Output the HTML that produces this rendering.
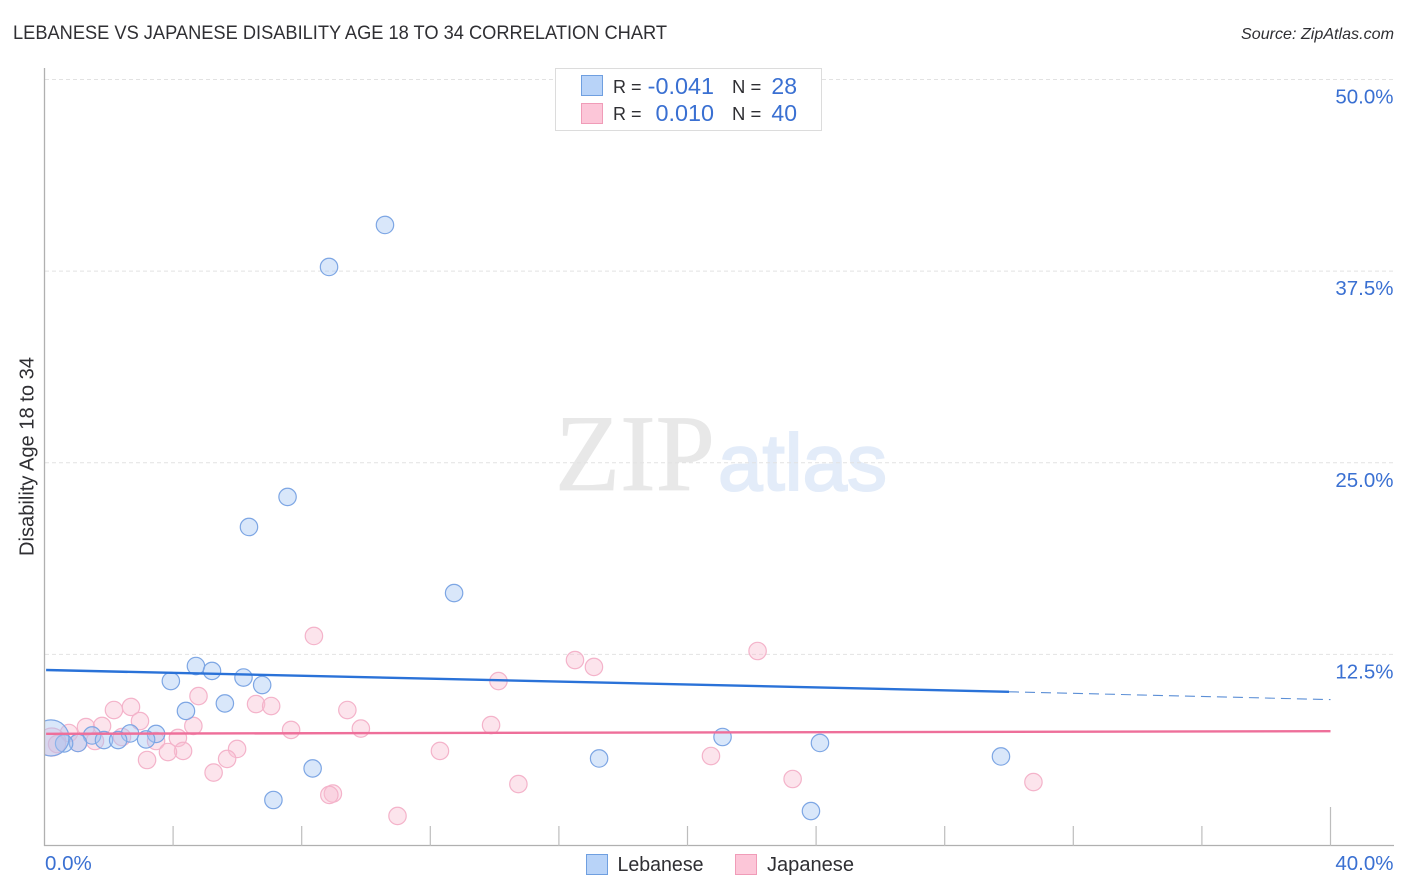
<!DOCTYPE html>
<html lang="en">
<head>
<meta charset="utf-8">
<title>Lebanese vs Japanese Disability Age 18 to 34 Correlation Chart</title>
<style>
html,body{margin:0;padding:0;background:#fff;width:1406px;height:892px;overflow:hidden}
svg{display:block;font-family:"Liberation Sans",sans-serif}
</style>
</head>
<body>
<svg id="chart" width="1406" height="892" viewBox="0 0 1406 892" xmlns="http://www.w3.org/2000/svg">
  <defs>
    <clipPath id="plot-clip"><rect x="45" y="60" width="1349" height="786"/></clipPath>
  </defs>
  <rect width="1406" height="892" fill="#fff"/>
  <text x="13" y="39" font-size="19" fill="#2f2f33" textLength="654" lengthAdjust="spacingAndGlyphs">LEBANESE VS JAPANESE DISABILITY AGE 18 TO 34 CORRELATION CHART</text>
  <text x="1394" y="39" font-size="16" font-style="italic" fill="#2f2f33" text-anchor="end" textLength="153" lengthAdjust="spacingAndGlyphs">Source: ZipAtlas.com</text>

  <g>
    <text x="555" y="490" font-family="'Liberation Serif',serif" font-size="109" fill="#e8e8e8" stroke="#e8e8e8" stroke-width="0.8" textLength="160" lengthAdjust="spacingAndGlyphs">ZIP</text>
    <text x="718" y="490" font-size="80" fill="#e3ecf9" stroke="#e3ecf9" stroke-width="2" textLength="169" lengthAdjust="spacingAndGlyphs">atlas</text>
  </g>

  <g id="grid"></g>
  <g id="points" clip-path="url(#plot-clip)"></g>
  <g id="trends"></g>
  <g id="axes"></g>

  <text transform="translate(33.5,456.5) rotate(-90)" font-size="20" fill="#2f2f33" text-anchor="middle" textLength="199" lengthAdjust="spacingAndGlyphs">Disability Age 18 to 34</text>

  <g>
    <rect x="555.5" y="68.5" width="266" height="62" fill="#fff" stroke="#dcdcdc"/>
    <rect x="581.5" y="75.5" width="21" height="20" fill="#b8d3f8" stroke="#6f9fe0"/>
    <rect x="581.5" y="103.5" width="21" height="20" fill="#fcc6d8" stroke="#f09cb8"/>
    <text x="613" y="93" font-size="18" fill="#2f2f33">R =</text>
    <text x="714" y="94" font-size="23.4" fill="#3a70d2" text-anchor="end">-0.041</text>
    <text x="732" y="93" font-size="18.5" fill="#2f2f33">N =</text>
    <text x="797" y="94" font-size="23" fill="#3a70d2" text-anchor="end">28</text>
    <text x="613" y="120" font-size="18" fill="#2f2f33">R =</text>
    <text x="714" y="121" font-size="23.4" fill="#3a70d2" text-anchor="end">0.010</text>
    <text x="732" y="120" font-size="18.5" fill="#2f2f33">N =</text>
    <text x="797" y="121" font-size="23" fill="#3a70d2" text-anchor="end">40</text>
  </g>

  <g>
    <g>
      <rect x="586.5" y="854.5" width="21" height="20" fill="#b8d3f8" stroke="#6f9fe0"/>
      <text x="617.5" y="871" font-size="20" fill="#2f2f33" textLength="86" lengthAdjust="spacingAndGlyphs">Lebanese</text>
    </g>
    <g>
      <rect x="735.5" y="854.5" width="21" height="20" fill="#fcc6d8" stroke="#f09cb8"/>
      <text x="767" y="871" font-size="20" fill="#2f2f33" textLength="87" lengthAdjust="spacingAndGlyphs">Japanese</text>
    </g>
  </g>
</svg>
<script>
const yTicks = [12.5, 25, 37.5, 50];
const yTickLabels = ["12.5%", "25.0%", "37.5%", "50.0%"];
const xTicks = [4, 8, 12, 16, 20, 24, 28, 32, 36, 40];
const xEndLabels = ["0.0%", "40.0%"];

const lebaneseX = [10.59, 8.85, 7.56, 6.36, 12.74, 4.71, 5.21, 3.93, 6.19, 6.77, 4.40, 5.61, 3.47, 2.66, 1.48, 1.85, 2.29, 3.16, 1.04, 0.61, 0.20, 21.09, 24.12, 29.75, 17.25, 8.34, 7.12, 23.84];
const lebaneseY = [40.51, 37.77, 22.77, 20.81, 16.50, 11.74, 11.42, 10.76, 10.99, 10.50, 8.81, 9.30, 7.31, 7.34, 7.21, 6.91, 6.91, 6.95, 6.72, 6.69, 7.05, 7.11, 6.72, 5.84, 5.71, 5.06, 3.00, 2.28];
const lebaneseWeight = [1, 1, 1, 1, 1, 1, 1, 1, 1, 1, 1, 1, 1, 1, 1, 1, 1, 1, 1, 1, 4.3, 1, 1, 1, 1, 1, 1, 1];

const japaneseX = [8.38, 16.50, 17.09, 22.18, 14.12, 4.79, 9.42, 6.58, 7.05, 2.69, 2.16, 2.97, 4.63, 1.29, 1.79, 7.67, 9.84, 13.89, 0.76, 2.41, 1.57, 3.47, 4.15, 5.99, 4.31, 3.84, 3.19, 5.68, 5.26, 12.30, 20.73, 14.74, 23.27, 30.76, 8.97, 8.86, 10.98, 0.23, 0.39, 1.04];
const japaneseY = [13.70, 12.13, 11.68, 12.72, 10.76, 9.78, 8.87, 9.26, 9.13, 9.07, 8.87, 8.15, 7.83, 7.76, 7.83, 7.57, 7.66, 7.89, 7.37, 7.11, 6.85, 6.85, 7.05, 6.33, 6.20, 6.13, 5.61, 5.68, 4.79, 6.20, 5.87, 4.04, 4.37, 4.17, 3.42, 3.33, 1.96, 6.78, 6.65, 6.72];
const japaneseWeight = [1, 1, 1, 1, 1, 1, 1, 1, 1, 1, 1, 1, 1, 1, 1, 1, 1, 1, 1, 1, 1, 1, 1, 1, 1, 1, 1, 1, 1, 1, 1, 1, 1, 1, 1, 1, 1, 2.6, 1, 1];

const lebaneseTrendX = [0.05, 30, 40];
const lebaneseTrendY = [11.48, 10.06, 9.55];
const japaneseTrendX = [0.05, 40];
const japaneseTrendY = [7.32, 7.49];

const NS = "http://www.w3.org/2000/svg";
function xScale(v) { return 44.5 + v * 32.15; }
function yScale(v) { return 846 - v * 15.33; }
function make(tag, attrs, parent) {
  const el = document.createElementNS(NS, tag);
  for (const k in attrs) el.setAttribute(k, attrs[k]);
  parent.appendChild(el);
  return el;
}

const grid = document.getElementById("grid");
const axes = document.getElementById("axes");
const points = document.getElementById("points");
const trends = document.getElementById("trends");

yTicks.forEach(function (t, i) {
  const line = make("line", {x1: 45, x2: 1394, y1: yScale(t), y2: yScale(t), stroke: "#e2e2e2", "stroke-width": 1, "stroke-dasharray": "4 3"}, grid);
  
  
  const label = make("text", {x: 1393.5, y: yScale(t) + 24, "font-size": 20.5, fill: "#3a70d2", "text-anchor": "end"}, axes);
  label.textContent = yTickLabels[i];
  
  
});

const yAxisLine = make("line", {x1: 44.5, x2: 44.5, y1: 68, y2: 846, stroke: "#b0b0b0", "stroke-width": 1.3}, axes);


const xAxisLine = make("line", {x1: 44, x2: 1394, y1: 845.5, y2: 845.5, stroke: "#b0b0b0", "stroke-width": 1.3}, axes);



xTicks.forEach(function (t, i) {
  const top = i === xTicks.length - 1 ? 807 : 826;
  const tick = make("line", {x1: xScale(t), x2: xScale(t), y1: top, y2: 846, stroke: "#bdbdbd", "stroke-width": 1.2}, axes);
  
  
});

const xLabelStart = make("text", {x: 45, y: 870, "font-size": 20.5, fill: "#3a70d2"}, axes);
xLabelStart.textContent = xEndLabels[0];


const xLabelEnd = make("text", {x: 1393.5, y: 870, "font-size": 20.5, fill: "#3a70d2", "text-anchor": "end"}, axes);
xLabelEnd.textContent = xEndLabels[1];



function radius(w) { return 8.7 * Math.sqrt(w); }

japaneseX.forEach(function (x, i) {
  const c = make("circle", {cx: xScale(x), cy: yScale(japaneseY[i]), r: radius(japaneseWeight[i]), fill: "rgba(248,190,210,0.42)", stroke: "#f4b3ca", "stroke-width": 1.2}, points);
  
  
});
lebaneseX.forEach(function (x, i) {
  const c = make("circle", {cx: xScale(x), cy: yScale(lebaneseY[i]), r: radius(lebaneseWeight[i]), fill: "rgba(165,198,242,0.42)", stroke: "#7da6e4", "stroke-width": 1.2}, points);
  
  
});

const lebSolid = make("line", {x1: xScale(lebaneseTrendX[0]), y1: yScale(lebaneseTrendY[0]), x2: xScale(lebaneseTrendX[1]), y2: yScale(lebaneseTrendY[1]), stroke: "#2a72d8", "stroke-width": 2.4}, trends);


const lebDash = make("line", {x1: xScale(lebaneseTrendX[1]), y1: yScale(lebaneseTrendY[1]), x2: xScale(lebaneseTrendX[2]), y2: yScale(lebaneseTrendY[2]), stroke: "#5c8fd6", "stroke-width": 1.1, "stroke-dasharray": "10 6"}, trends);


const japLine = make("line", {x1: xScale(japaneseTrendX[0]), y1: yScale(japaneseTrendY[0]), x2: xScale(japaneseTrendX[1]), y2: yScale(japaneseTrendY[1]), stroke: "#ee6f9a", "stroke-width": 2.4}, trends);


</script>
</body>
</html>
